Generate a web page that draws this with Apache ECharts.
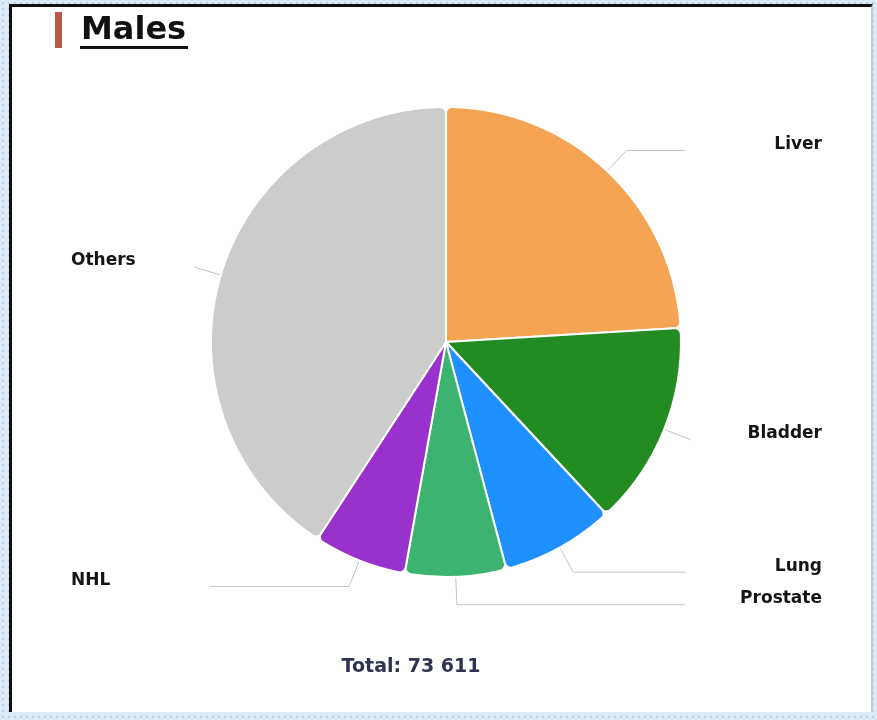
<!DOCTYPE html>
<html>
<head>
<meta charset="utf-8">
<script src="https://cdn.jsdelivr.net/npm/echarts@6/dist/echarts.min.js"></script>
<style>
  html, body { margin: 0; padding: 0; width: 877px; height: 720px; overflow: hidden; }
  body {
    background-color: #dfeaf7;
    background-image: radial-gradient(#b9cfee 1px, transparent 1.3px);
    background-size: 6px 6px;
    position: relative;
  }
  #panel {
    position: absolute; left: 9px; top: 4px; width: 864px; height: 708px;
    background: #ffffff;
    border-left: 3px solid #111111; border-top: 3px solid #111111;
    border-right: 2px solid #c9c9c9;
    box-sizing: border-box;
  }
  #chart { position: absolute; left: 0; top: 0; width: 877px; height: 720px; }
</style>
</head>
<body>
<div id="panel"></div>
<div id="chart"></div>
<script>
// ---- data ----
var categories = ['Liver', 'Bladder', 'Lung', 'Prostate', 'NHL', 'Others'];
var values = [17700, 10320, 5740, 5120, 4700, 30031];
var colors = ['#F4A453', '#228B22', '#1E90FF', '#3CB371', '#9932CC', '#CCCCCC'];
var titleText = 'Males';
var totalText = 'Total: 73 611';

// ---- layout constants ----
var CX = 446, CY = 342, R = 235;
var LINE_END_R = 685, LINE_END_L = 210;
var LABEL_R = 822, LABEL_L = 71;
var FONT = '"DejaVu Sans", sans-serif';

var chart = echarts.init(document.getElementById('chart'), null, { renderer: 'canvas' });

var pieData = categories.map(function (c, i) {
  return { name: c, value: values[i], itemStyle: { color: colors[i] } };
});

var option = {
  backgroundColor: 'transparent',
  animation: false,
  graphic: [
    { type: 'rect', shape: { x: 55, y: 12, width: 7, height: 36 }, style: { fill: '#B65A4B' } },
    { type: 'text', x: 81, y: 31, style: { text: titleText, font: 'bold 32px ' + FONT, fill: '#111111', verticalAlign: 'middle', align: 'left' } },
    { type: 'rect', shape: { x: 80, y: 46, width: 108, height: 3 }, style: { fill: '#111111' } },
    { type: 'text', x: 411, y: 667, style: { text: totalText, font: 'bold 19px ' + FONT, fill: '#2F3352', verticalAlign: 'middle', align: 'center' } }
  ],
  series: [{
    type: 'pie',
    center: [CX, CY],
    radius: [0, R],
    startAngle: 90,
    clockwise: true,
    data: pieData,
    itemStyle: { borderColor: '#ffffff', borderWidth: 2, borderRadius: 6 },
    label: {
      show: true,
      position: 'outside',
      formatter: '{b}',
      color: '#151515',
      fontFamily: FONT,
      fontWeight: 'bold',
      fontSize: 17
    },
    labelLine: {
      show: true,
      length: 28,
      length2: 0,
      smooth: false,
      lineStyle: { color: '#C2C2C2', width: 1 }
    },
    labelLayout: function (p) {
      var pts = p.labelLinePoints;
      if (!pts) return {};
      var p0 = [pts[0][0], pts[0][1]];
      var p1 = [pts[1][0], pts[1][1]];
      var right = p1[0] >= CX;
      var endX = right ? Math.max(p1[0], LINE_END_R) : Math.min(p1[0], LINE_END_L);
      return {
        x: right ? LABEL_R : LABEL_L,
        y: p1[1] - 6,
        align: right ? 'right' : 'left',
        verticalAlign: 'middle',
        labelLinePoints: [p0, p1, [endX, p1[1]]]
      };
    },
    emphasis: { disabled: true }
  }]
};
chart.setOption(option);
</script>
</body>
</html>
